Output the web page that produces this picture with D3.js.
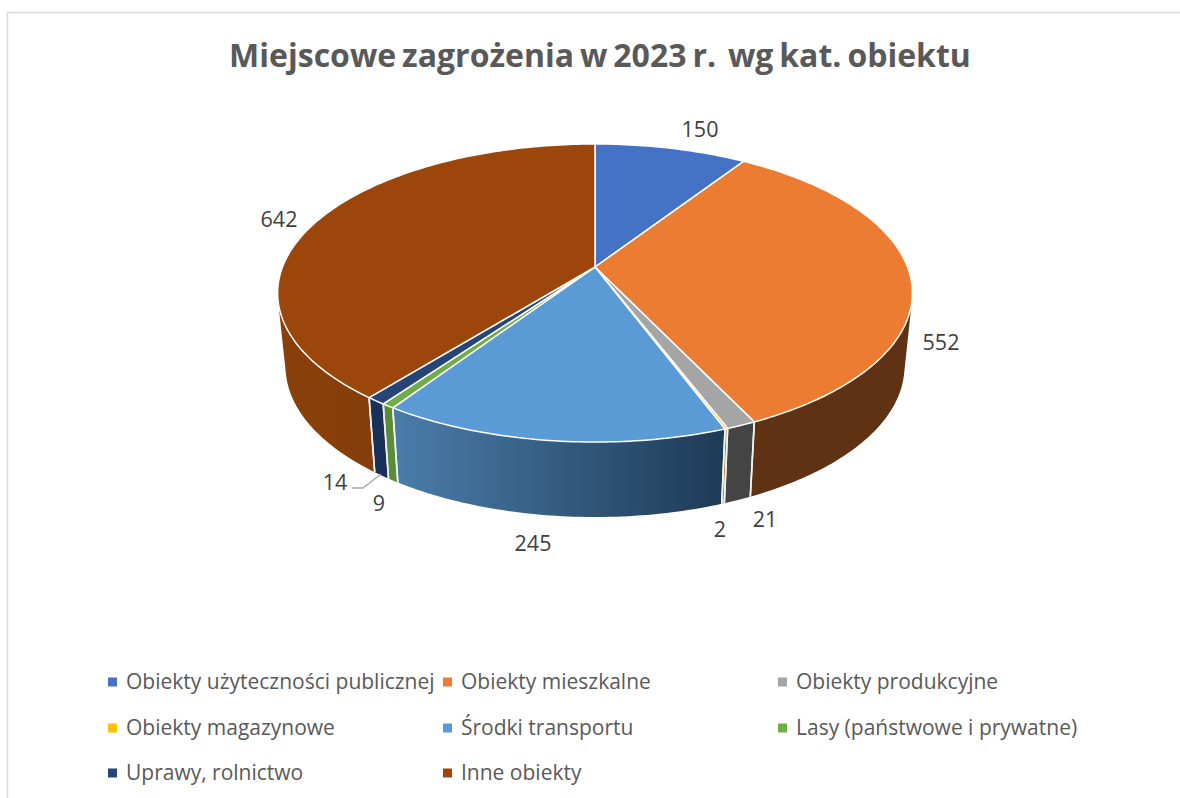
<!DOCTYPE html>
<html><head><meta charset="utf-8">
<script src="https://cdn.jsdelivr.net/npm/d3@7"></script>
<style>html,body{margin:0;padding:0;background:#fff}svg{display:block}text{font-family:"Open Sans",sans-serif}</style>
</head><body><svg id="c" width="1180" height="798"></svg>
<script>
const categories=["Obiekty użyteczności publicznej","Obiekty mieszkalne","Obiekty produkcyjne","Obiekty magazynowe","Środki transportu","Lasy (państwowe i prywatne)","Uprawy, rolnictwo","Inne obiekty"];
const values=[150,552,21,2,245,9,14,642];
const topColors=["#4472c4","#eb7c31","#a5a5a5","#ffc000","#5b9bd5","#70ad47","#264478","#9c460c"];
const wallLeft=["#2b4a80","#5e3213","#444444","#a07a10","#4a7dab","#5b8c38","#1a3058","#8a400a"];
const wallRight=["#2b4a80","#5e3213","#444444","#a07a10","#1e3a55","#5b8c38","#1a3058","#7a3809"];
const title="Miejscowe zagrożenia w 2023 r.  wg kat. obiektu";

const svg=d3.select("#c");
const cx=595,cy=267,persA=97.9,persC=-0.1745,persD=312.5,depth=72,shrink=0.975;
function rimTop(t){const X=Math.sin(t),Y=-Math.cos(t),w=1+persC*Y;return [cx+persD*X/w,(persA*Y+cy)/w];}
function rimBot(t){const p=rimTop(t);return [cx+(p[0]-cx)*shrink,p[1]+depth+(p[1]-144)*0.01];}
const line=d3.line();
const arcs=d3.pie().sort(null)(values);
function samples(s,e){const n=Math.max(2,Math.ceil((e-s)*60));return d3.range(n+1).map(i=>s+(e-s)*i/n);}

svg.append("path").attr("d","M7.5,798V12.5H1180").attr("fill","none").attr("stroke","#d9d9d9").attr("stroke-width",1.5);

const defs=svg.append("defs");
arcs.forEach((o,i)=>{
  const ts=samples(o.startAngle,o.endAngle);
  const xs=ts.map(t=>rimTop(t)[0]);
  const g=defs.append("linearGradient").attr("id","w"+i).attr("gradientUnits","userSpaceOnUse")
    .attr("x1",d3.min(xs)).attr("x2",d3.max(xs)).attr("y1",0).attr("y2",0);
  g.append("stop").attr("offset",0).attr("stop-color",wallLeft[i]);
  g.append("stop").attr("offset",1).attr("stop-color",wallRight[i]);
});

// walls: one path of small, consistently wound quads so the silhouette is fully covered
arcs.forEach((o,i)=>{
  const ts=samples(o.startAngle,o.endAngle);
  const quads=d3.pairs(ts).map(([s,e])=>{
    const q=[rimTop(s),rimTop(e),rimBot(e),rimBot(s)];
    if(d3.polygonArea(q)<0) q.reverse();
    return line(q)+"Z";
  });
  svg.append("path").attr("d",quads.join("")).attr("fill",`url(#w${i})`).attr("stroke","none");
});
// white edges on the front of the walls
arcs.forEach((o,i)=>{
  [o.startAngle,o.endAngle].forEach(t=>{
    if(Math.cos(t)<0) svg.append("path").attr("d",line([rimTop(t),rimBot(t)])).attr("stroke","#f2f2f2").attr("stroke-width",1.6).attr("fill","none");
  });
});
// top surface
arcs.forEach((o,i)=>{
  const ts=samples(o.startAngle,o.endAngle);
  svg.append("path").attr("d",line([[cx,cy]].concat(ts.map(rimTop)))+"Z")
    .attr("fill",topColors[i]).attr("stroke","#fff").attr("stroke-width",1.5).attr("stroke-linejoin","round");
});

// leader line for the "14" label
svg.append("path").attr("d","M352,488H363L381,474").attr("fill","none").attr("stroke","#a6a6a6").attr("stroke-width",1.3);

// data labels
const labelPos=[[700,129],[941,342],[765,519],[720,529],[533,543],[379,503],[335,482],[279,219]];
svg.selectAll(".lab").data(values).join("text").attr("class","lab")
  .attr("x",(v,i)=>labelPos[i][0]).attr("y",(v,i)=>labelPos[i][1]).attr("dy","0.36em")
  .attr("text-anchor","middle").attr("font-size",21.5).attr("fill","#404040").text(v=>v);

// title
svg.append("text").attr("x",600).attr("y",67).attr("text-anchor","middle").attr("font-size",32).attr("font-weight",700)
  .attr("word-spacing",-2.4).attr("fill","#595959").style("white-space","pre").text(title);

// legend
const colX=[107,442,777],rowY=[681,727,772];
const leg=svg.selectAll(".leg").data(categories).join("g").attr("class","leg")
  .attr("transform",(s,i)=>`translate(${colX[i%3]},${rowY[Math.floor(i/3)]})`);
leg.append("rect").attr("x",1).attr("y",-3.5).attr("width",9).attr("height",9).attr("fill",(s,i)=>topColors[i]);
leg.append("text").attr("x",19).attr("y",0).attr("dy","0.36em").attr("font-size",21).attr("fill","#595959").text(s=>s);
</script></body></html>
